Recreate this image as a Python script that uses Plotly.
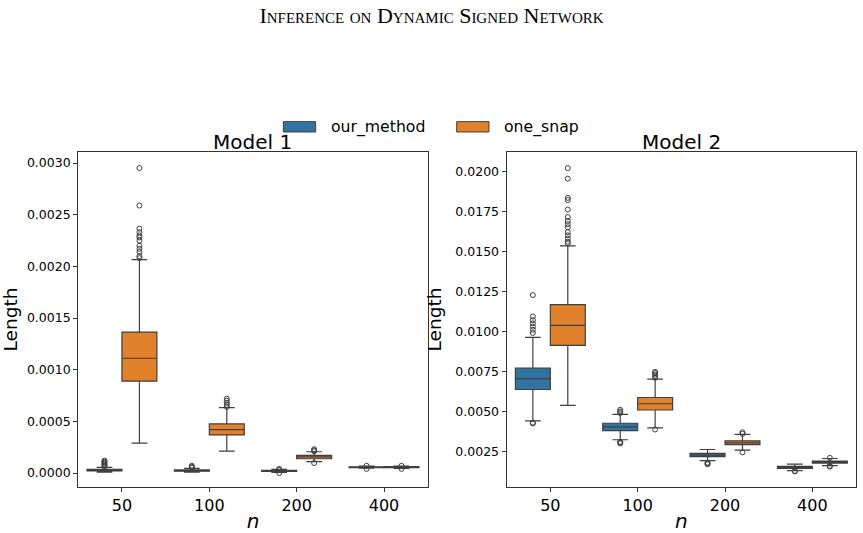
import plotly.graph_objects as go

categories = ["50", "100", "200", "400"]
methods = ["our_method", "one_snap"]
colors = {"our_method": "#3274A1", "one_snap": "#E1812C"}

# Model 1 statistics
m1_our_q1 = [0.000020, 0.000018, 0.000015, 0.000052]
m1_our_med = [0.000028, 0.000024, 0.000020, 0.000056]
m1_our_q3 = [0.000035, 0.000030, 0.000025, 0.000060]
m1_our_lo = [0.000008, 0.000008, 0.000005, 0.000046]
m1_our_hi = [0.000055, 0.000045, 0.000035, 0.000066]
m1_our_out = [[0.00006, 0.00007, 0.00008, 0.00009, 0.0001, 0.00011, 0.00012],
              [0.00005, 0.00006, 0.00007],
              [0.00003, 0.00004, 0.0],
              [0.00004, 0.00007]]

m1_one_q1 = [0.000889, 0.000369, 0.000138, 0.000052]
m1_one_med = [0.001111, 0.000420, 0.000157, 0.000057]
m1_one_q3 = [0.001364, 0.000475, 0.000170, 0.000062]
m1_one_lo = [0.000289, 0.000212, 0.000110, 0.000044]
m1_one_hi = [0.002066, 0.000632, 0.000206, 0.000068]
m1_one_out = [[0.002952, 0.002589, 0.002365, 0.00233, 0.0023, 0.00228, 0.00225, 0.0022,
               0.00217, 0.00214, 0.0021, 0.00208],
              [0.00064, 0.00066, 0.00068, 0.0007, 0.00072],
              [0.00021, 0.00022, 0.00023, 0.000096],
              [0.00004, 0.00007]]

# Model 2 statistics
m2_our_q1 = [0.00637, 0.00380, 0.00217, 0.00144]
m2_our_med = [0.00703, 0.00403, 0.00227, 0.00150]
m2_our_q3 = [0.00770, 0.00426, 0.00238, 0.00157]
m2_our_lo = [0.00441, 0.00323, 0.00192, 0.00130]
m2_our_hi = [0.00963, 0.00482, 0.00262, 0.00171]
m2_our_out = [[0.01227, 0.01093, 0.0107, 0.0105, 0.0103, 0.0101, 0.0099, 0.00425, 0.0043],
              [0.0049, 0.0050, 0.0051, 0.0031, 0.0030, 0.00305],
              [0.0018, 0.00175, 0.0017],
              [0.00128, 0.00125]]

m2_one_q1 = [0.00913, 0.00509, 0.00292, 0.00177]
m2_one_med = [0.01037, 0.00548, 0.00304, 0.00184]
m2_one_q3 = [0.01167, 0.00587, 0.00316, 0.00190]
m2_one_lo = [0.00538, 0.00397, 0.00258, 0.00161]
m2_one_hi = [0.01534, 0.00702, 0.00356, 0.00206]
m2_one_out = [[0.02020, 0.01954, 0.01834, 0.0182, 0.01761, 0.01714, 0.0169, 0.0167, 0.0165,
               0.0162, 0.0160, 0.0158, 0.0156, 0.0155],
              [0.00747, 0.0074, 0.0073, 0.0072, 0.0071, 0.00387],
              [0.0036, 0.0037, 0.00244],
              [0.0021, 0.0016, 0.00155]]

models = [
    {"our_method": (m1_our_q1, m1_our_med, m1_our_q3, m1_our_lo, m1_our_hi, m1_our_out),
     "one_snap": (m1_one_q1, m1_one_med, m1_one_q3, m1_one_lo, m1_one_hi, m1_one_out)},
    {"our_method": (m2_our_q1, m2_our_med, m2_our_q3, m2_our_lo, m2_our_hi, m2_our_out),
     "one_snap": (m2_one_q1, m2_one_med, m2_one_q3, m2_one_lo, m2_one_hi, m2_one_out)},
]
titles = ["Model 1", "Model 2"]

EDGE = "#3f3f3f"
fig = go.Figure()
offsets = {"our_method": -0.2, "one_snap": 0.2}
for mi, model in enumerate(models):
    xa = "x" if mi == 0 else "x2"
    ya = "y" if mi == 0 else "y2"
    for m in methods:
        q1, med, q3, lo, hi, outs = model[m]
        xs = [i + offsets[m] for i in range(len(categories))]
        fig.add_trace(go.Box(
            x=xs, q1=q1, median=med, q3=q3, lowerfence=lo, upperfence=hi,
            width=0.4, whiskerwidth=0.45,
            fillcolor=colors[m], line=dict(color=EDGE, width=1.2),
            name=m, showlegend=False,
            xaxis=xa, yaxis=ya, boxpoints=False, hoverinfo="skip",
        ))
        ox, oy = [], []
        for i, vals in enumerate(outs):
            for v in vals:
                ox.append(i + offsets[m])
                oy.append(v)
        fig.add_trace(go.Scatter(
            x=ox, y=oy, mode="markers",
            marker=dict(symbol="circle-open", size=5, color=EDGE, line=dict(width=1, color=EDGE)),
            showlegend=False, xaxis=xa, yaxis=ya, hoverinfo="skip",
        ))

axis_common = dict(showline=True, linecolor="#333333", linewidth=1.2, mirror=True,
                   ticks="outside", ticklen=4, tickcolor="#333333", showgrid=False,
                   zeroline=False)
ytick_font = dict(family="DejaVu Sans", size=12.5, color="black")
xtick_font = dict(family="DejaVu Sans", size=16, color="black")

fig.update_layout(
    width=863, height=533,
    margin=dict(l=0, r=0, t=0, b=0),
    plot_bgcolor="white", paper_bgcolor="white",
    boxmode="overlay",
    showlegend=False,
    font=dict(family="DejaVu Sans", color="black"),
    xaxis=dict(domain=[0.0907, 0.4956], range=[-0.5, 3.5], tickvals=[0, 1, 2, 3],
               ticktext=categories, anchor="y", tickfont=xtick_font,
               title=dict(text="<i>n</i>", font=dict(size=20), standoff=4), **axis_common),
    yaxis=dict(domain=[0.082, 0.7124], range=[-0.000131, 0.003103], dtick=0.0005,
               tickformat=".4f", anchor="x", tickfont=ytick_font,
               title=dict(text="Length", font=dict(size=18.5), standoff=8), **axis_common),
    xaxis2=dict(domain=[0.5871, 0.9919], range=[-0.5, 3.5], tickvals=[0, 1, 2, 3],
                ticktext=categories, anchor="y2", tickfont=xtick_font,
                title=dict(text="<i>n</i>", font=dict(size=20), standoff=4), **axis_common),
    yaxis2=dict(domain=[0.082, 0.7124], range=[0.000307, 0.02118], dtick=0.0025, tick0=0,
                tickformat=".4f", anchor="x2", tickfont=ytick_font,
                title=dict(text="Length", font=dict(size=18.5), standoff=8), **axis_common),
    title=dict(text="Inference on Dynamic Signed Network", x=0.5, xanchor="center",
               y=0.971, yanchor="middle",
               font=dict(family="Liberation Serif", size=22, variant="small-caps")),
)
for i, t in enumerate(titles):
    fig.add_annotation(text=t, xref="paper", yref="paper",
                       x=[0.2931, 0.7895][i], y=0.732, xanchor="center", yanchor="middle",
                       showarrow=False, font=dict(size=20, family="DejaVu Sans"))

# Manual legend (wide rectangular patches like the reference)
legend_patch_x = [(0.3283, 0.3658), (0.5292, 0.5666)]
legend_text_x = [0.3816, 0.582]
for m, (x0, x1), tx in zip(methods, legend_patch_x, legend_text_x):
    fig.add_shape(type="rect", xref="paper", yref="paper", x0=x0, x1=x1, y0=0.751, y1=0.7705,
                  fillcolor=colors[m], line=dict(color=EDGE, width=1))
    fig.add_annotation(text=m, xref="paper", yref="paper", x=tx, y=0.7608,
                       xanchor="left", yanchor="middle", showarrow=False,
                       font=dict(size=15.7, family="DejaVu Sans"))

fig.write_html("out.html")
